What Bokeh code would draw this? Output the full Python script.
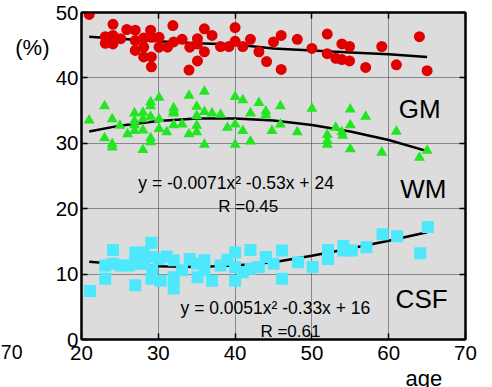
from bokeh.plotting import figure
from bokeh.models import Range1d, FixedTicker, LinearAxis, Label
from bokeh.embed import file_html
from bokeh.resources import INLINE

# ---- data ----
gm_age = [21.0, 24.1, 25.9, 27.0, 29.0, 31.9, 36.0, 37.0, 40.0, 23.1, 23.1, 24.1, 24.1, 25.1,
          27.0, 27.0, 28.1, 28.1, 28.1, 29.1, 29.1, 29.1, 30.1, 30.1, 31.2, 32.0, 33.1, 34.1,
          35.1, 35.1, 36.0, 35.1, 34.0, 38.1, 39.2, 40.0, 41.0, 42.0, 43.1, 44.1, 45.0, 46.0,
          46.0, 48.1, 50.0, 52.0, 52.0, 53.1, 53.9, 53.9, 54.9, 54.9, 57.0, 59.1, 61.0, 64.0, 65.0]
gm_val = [49.7, 48.2, 47.4, 47.3, 47.3, 48.0, 47.5, 46.5, 47.7, 46.3, 45.3, 46.5, 45.2, 46.0,
          45.7, 44.2, 46.1, 44.7, 43.2, 46.2, 43.2, 41.7, 46.2, 44.7, 44.7, 45.5, 45.9, 44.7,
          46.0, 45.2, 44.0, 42.6, 41.2, 44.8, 44.8, 45.6, 44.8, 45.9, 44.0, 42.5, 45.5, 46.5,
          41.3, 45.9, 44.5, 46.7, 43.7, 43.0, 45.2, 42.8, 44.8, 42.6, 41.6, 44.8, 42.0, 46.3, 41.1]

wm_age = [21.0, 23.0, 23.0, 24.0, 24.0, 24.0, 25.0, 26.0, 26.9, 26.9, 26.9, 26.9, 28.0, 28.0,
          28.0, 28.0, 29.0, 29.0, 29.0, 29.0, 29.0, 30.1, 30.1, 30.1, 31.1, 32.0, 32.0, 32.0,
          32.0, 33.1, 34.0, 34.0, 35.0, 35.0, 35.0, 35.0, 36.0, 36.0, 36.0, 37.0, 38.1, 39.0,
          40.0, 40.0, 40.0, 41.0, 41.0, 42.0, 42.0, 43.1, 44.0, 44.0, 44.8, 45.9, 45.9, 48.1,
          50.0, 52.0, 52.0, 52.0, 53.1, 53.9, 54.0, 55.0, 55.0, 55.0, 57.0, 59.1, 61.0, 64.0, 65.0]
wm_val = [33.5, 35.7, 30.8, 33.7, 29.9, 29.4, 32.7, 31.4, 34.6, 33.4, 32.8, 31.9, 34.7, 33.7,
          32.0, 29.0, 36.3, 35.7, 34.1, 30.8, 30.2, 37.0, 33.7, 32.2, 31.7, 35.4, 34.9, 34.6,
          32.8, 32.9, 37.3, 31.4, 35.6, 34.2, 32.7, 31.7, 37.9, 34.8, 29.8, 34.6, 34.4, 32.4,
          37.1, 32.9, 29.8, 36.6, 31.9, 34.6, 30.3, 36.2, 34.9, 34.3, 31.9, 35.7, 32.9, 31.7,
          35.3, 31.3, 30.4, 29.8, 32.4, 31.7, 31.2, 35.2, 32.8, 29.1, 34.1, 28.6, 31.8, 27.8, 28.9]

csf_age = [21.1, 23.1, 23.1, 24.1, 24.1, 25.1, 26.2, 27.0, 27.0, 27.0, 28.1, 28.1, 29.1, 29.1,
           29.1, 29.2, 30.1, 30.3, 31.1, 32.0, 32.0, 32.0, 33.1, 34.1, 35.0, 35.1, 36.0, 36.0,
           37.0, 38.1, 39.0, 40.0, 40.0, 40.0, 41.0, 42.0, 42.0, 43.1, 44.0, 45.0, 46.1, 46.1,
           48.2, 50.1, 52.1, 52.1, 54.1, 54.1, 55.2, 57.1, 59.2, 61.1, 64.1, 65.1]
csf_val = [7.4, 11.3, 9.3, 13.7, 11.6, 11.3, 11.3, 8.3, 13.3, 11.6, 13.3, 11.6, 14.8, 12.6,
           9.3, 10.6, 12.3, 9.0, 12.7, 12.1, 9.5, 7.8, 10.6, 12.3, 11.6, 9.5, 12.1, 10.6,
           9.0, 11.3, 12.2, 13.3, 11.1, 9.0, 10.3, 13.7, 10.8, 11.1, 12.6, 11.6, 13.6, 9.3,
           11.8, 11.1, 13.7, 12.3, 14.3, 13.6, 13.6, 14.1, 16.1, 15.8, 13.2, 17.2]

fit_age = [21, 25, 30, 35, 40, 45, 50, 55, 60, 65]
gm_fit = [46.3, 46.0, 45.6, 45.3, 45.1, 44.5, 44.2, 43.9, 43.6, 43.2]
wm_fit = [31.8, 32.7, 33.4, 33.8, 33.8, 33.5, 32.8, 31.8, 30.5, 28.8]
csf_fit = [11.9, 11.5, 11.2, 11.1, 11.3, 11.8, 12.8, 13.9, 15.1, 16.4]

x_ticks = [20, 30, 40, 50, 60, 70]
y_ticks = [0, 10, 20, 30, 40, 50]

FONT = "Liberation Sans"

p = figure(width=492, height=387, output_backend="svg", toolbar_location=None,
           x_range=Range1d(20, 70), y_range=Range1d(0, 50),
           min_border_left=81, min_border_right=27, min_border_top=12, min_border_bottom=44)
p.background_fill_color = "#dcdcdc"
p.border_fill_color = "white"
p.outline_line_color = "black"
p.outline_line_width = 2

for ax in (p.xaxis[0], p.yaxis[0]):
    ax.major_tick_in = 6
    ax.major_tick_out = 0
    ax.minor_tick_line_color = None
    ax.axis_line_width = 2
    ax.major_tick_line_width = 1.5
    ax.major_label_text_font = FONT
    ax.major_label_text_font_size = "20.5px"
    ax.major_label_text_color = "black"
p.xaxis[0].ticker = FixedTicker(ticks=x_ticks)
p.yaxis[0].ticker = FixedTicker(ticks=y_ticks)
p.xaxis[0].major_label_standoff = 6
p.yaxis[0].major_label_standoff = 3

for loc, ticks in (("right", y_ticks), ("above", x_ticks)):
    ax = LinearAxis(ticker=FixedTicker(ticks=ticks), major_label_text_font_size="1px",
                    major_label_text_color=None,
                    major_label_standoff=0, major_tick_in=6, major_tick_out=0,
                    minor_tick_line_color=None, axis_line_width=2, major_tick_line_width=1.5)
    p.add_layout(ax, loc)

for g in (p.xgrid[0], p.ygrid[0]):
    g.grid_line_color = "#333333"
    g.grid_line_dash = "1 1"
    g.grid_line_width = 1
p.xgrid[0].ticker = FixedTicker(ticks=x_ticks)
p.ygrid[0].ticker = FixedTicker(ticks=y_ticks)

# fitted curves (under markers)
p.line(fit_age, gm_fit, line_color="black", line_width=2.5)
p.line(fit_age, wm_fit, line_color="black", line_width=2.5)
p.line(fit_age, csf_fit, line_color="black", line_width=2.5)

p.scatter(gm_age, gm_val, marker="circle", size=11, fill_color="#e00000", line_color=None)
p.scatter(wm_age, wm_val, marker="triangle", size=11, fill_color="#22e622", line_color=None)
p.scatter(csf_age, csf_val, marker="square", size=12, fill_color="#4ee8fc", line_color=None)

def lab(x, y, text, size, align="left", baseline="alphabetic", place="center"):
    p.add_layout(Label(x=x, y=y, text=text, text_font=FONT, text_font_size=size,
                       text_color="black", text_align=align, text_baseline=baseline), place)

lab(61.3, 35.2, "GM", "26px")
lab(61.5, 23.0, "WM", "26px")
lab(60.9, 6.2, "CSF", "26px")
lab(27.4, 23.9, "y = -0.0071x\u00b2 -0.53x + 24", "17.5px")
lab(37.8, 20.4, "R =0.45", "17px")
lab(32.9, 4.8, "y = 0.0051x\u00b2 -0.33x + 16", "17.5px")
lab(43.3, 1.25, "R =0.61", "17px")
lab(13.6, 44.7, "(%)", "22px", align="center", baseline="middle", place="left")
# tick label of the neighbouring panel, at the picture's left edge
lab(12.32, -0.86, "70", "19.5px", align="right", baseline="top", place="right")
lab(62.2, -4.0, "age", "22px", baseline="top", place="below")

open("out.html", "w").write(file_html(p, INLINE))
